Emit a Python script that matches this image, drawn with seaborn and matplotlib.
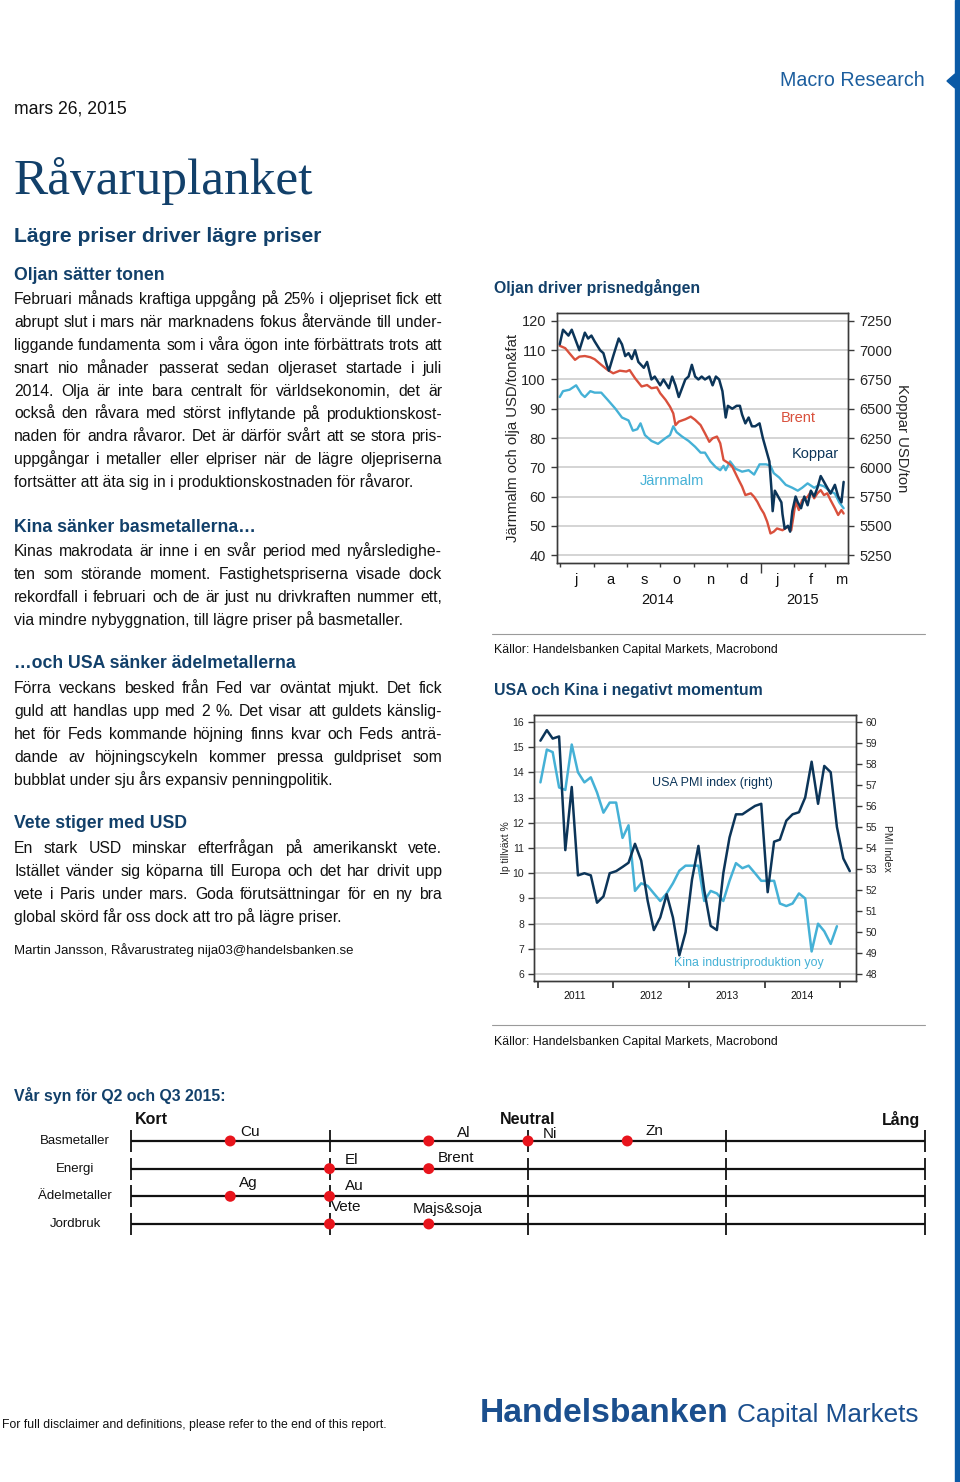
import numpy as np
import pandas as pd
import seaborn as sns
import matplotlib
matplotlib.use("Agg")
import matplotlib.pyplot as plt
import matplotlib.dates as mdates
from matplotlib.ticker import NullFormatter, FuncFormatter

# ---- chart 1: Oljan driver prisnedgången (days from 2014-07-01) ----
START = pd.Timestamp("2014-07-01")
brent_day = [0, 5, 9, 14, 18, 23, 28, 32, 38, 44, 49, 55, 61, 64, 69, 75, 80, 84, 89, 92,
             97, 101, 104, 106, 109, 115, 120, 124, 129, 133, 137, 140, 144, 147, 150, 155,
             158, 161, 164, 167, 170, 175, 178, 181, 184, 187, 190, 193, 196, 199, 204, 209,
             212, 214, 216, 219, 222, 227, 230, 233, 236, 239, 242, 245, 248, 252, 255, 258, 260]
brent = [111.5, 110.7, 108.9, 106.7, 107.8, 108.0, 107.6, 106.9, 105.0, 103.2, 102.1, 103.0,
         102.7, 103.2, 100.4, 97.6, 98.1, 97.0, 97.3, 95.3, 93.0, 90.7, 88.4, 84.4, 85.6, 86.4,
         87.3, 86.2, 84.4, 81.6, 78.7, 79.9, 80.5, 78.2, 72.5, 71.3, 70.2, 67.9, 65.6, 63.4,
         60.5, 61.1, 59.9, 58.2, 56.0, 54.2, 51.4, 47.4, 48.0, 49.1, 48.5, 49.7, 48.5, 53.1,
         58.2, 55.4, 58.8, 59.9, 61.7, 59.4, 61.1, 62.2, 60.5, 61.1, 58.8, 56.0, 53.7, 55.4, 54.2]
iron_day = [0, 3, 9, 15, 20, 23, 28, 32, 38, 44, 51, 57, 63, 67, 71, 74, 78, 84, 90, 97,
            101, 104, 107, 112, 118, 124, 129, 133, 138, 143, 147, 150, 152, 156, 161, 167,
            173, 178, 183, 189, 193, 196, 201, 207, 213, 218, 222, 227, 233, 238, 242, 247,
            252, 256, 260]
iron = [94, 96, 96.5, 98, 95, 94, 96, 95.5, 95.5, 93, 90, 87, 86, 82.5, 83, 85, 81, 79, 78, 80,
        81, 84, 82, 80.5, 79, 77, 75, 75, 72, 70, 69, 70.5, 69, 72, 69.5, 68.5, 69, 67.5, 71, 71,
        70.5, 68, 66.5, 64, 63, 62, 63, 64.5, 63, 64, 63.5, 62, 61, 58, 56]
cu_day = [0, 3, 8, 11, 14, 18, 23, 26, 29, 32, 37, 40, 43, 45, 49, 54, 57, 60, 63, 66,
          69, 72, 77, 80, 84, 87, 92, 95, 100, 103, 106, 109, 112, 115, 118, 121, 124, 127,
          130, 133, 137, 140, 143, 146, 149, 152, 154, 158, 162, 165, 167, 170, 173, 176, 179,
          183, 186, 189, 192, 194, 195, 197, 200, 203, 204, 206, 209, 211, 213, 216, 218, 221,
          224, 227, 230, 233, 236, 239, 242, 245, 248, 252, 255, 258, 260]
copper = [7050, 7175, 7125, 7175, 7100, 7000, 7150, 7100, 7125, 7075, 7000, 6975, 6875, 6825,
          6950, 7100, 7050, 6950, 6975, 6925, 7000, 6900, 6850, 6900, 6750, 6775, 6700, 6750,
          6675, 6775, 6700, 6600, 6675, 6750, 6775, 6875, 6775, 6750, 6775, 6750, 6775, 6700,
          6775, 6750, 6650, 6425, 6525, 6500, 6525, 6525, 6450, 6375, 6425, 6350, 6350, 6375,
          6250, 6150, 6050, 5800, 5625, 5800, 5750, 5700, 5600, 5475, 5500, 5450, 5625, 5750,
          5700, 5650, 5750, 5675, 5800, 5750, 5825, 5925, 5875, 5825, 5775, 5850, 5750, 5700, 5875]

# ---- chart 2: USA och Kina i negativt momentum (monthly from jan 2011) ----
pmi = [59.1, 59.6, 59.2, 59.3, 53.9, 56.9, 52.7, 52.8, 52.7, 51.4, 51.7, 52.8, 52.9, 53.1,
       53.3, 54.2, 53.4, 51.5, 50.1, 50.7, 51.8, 50.7, 48.9, 50.0, 52.5, 54.1, 52.0, 50.3,
       50.1, 52.8, 54.5, 55.6, 55.6, 55.8, 56.0, 56.1, 51.9, 54.3, 54.4, 55.3, 55.6, 55.7,
       56.4, 58.1, 56.1, 57.9, 57.6, 55.0, 53.5, 52.9]
ip = [13.6, 14.9, 14.8, 13.4, 13.3, 15.1, 14.0, 13.6, 13.8, 13.2, 12.4, 12.8, 12.8, 11.4,
      11.9, 9.3, 9.6, 9.5, 9.2, 8.9, 9.2, 9.6, 10.1, 10.3, 10.3, 10.3, 8.9, 9.3, 9.2, 8.9,
      9.7, 10.4, 10.2, 10.3, 10.0, 9.7, 9.7, 9.7, 8.8, 8.7, 8.8, 9.2, 9.0, 6.9, 8.0, 7.7,
      7.2, 7.9]

# ---- vår syn ----
view_rows = ["Basmetaller", "Energi", "Ädelmetaller", "Jordbruk"]
view_names = ["Cu", "Al", "Ni", "Zn", "El", "Brent", "Ag", "Au", "Vete", "Majs&soja"]
view_group = ["Basmetaller"] * 4 + ["Energi"] * 2 + ["Ädelmetaller"] * 2 + ["Jordbruk"] * 2
view_pos = [0.5, 1.5, 2.0, 2.5, 1.0, 1.5, 0.5, 1.0, 1.0, 1.5]
view_scale = ["Kort", "Neutral", "Lång"]

# ---- text ----
paragraphs = [
    ("Oljan sätter tonen", 275, [
        "Februari månads kraftiga uppgång på 25% i oljepriset fick ett",
        "abrupt slut i mars när marknadens fokus återvände till under-",
        "liggande fundamenta som i våra ögon inte förbättrats trots att",
        "snart nio månader passerat sedan oljeraset startade i juli",
        "2014. Olja är inte bara centralt för världsekonomin, det är",
        "också den råvara med störst inflytande på produktionskost-",
        "naden för andra råvaror. Det är därför svårt att se stora pris-",
        "uppgångar i metaller eller elpriser när de lägre oljepriserna",
        "fortsätter att äta sig in i produktionskostnaden för råvaror."]),
    ("Kina sänker basmetallerna…", 527, [
        "Kinas makrodata är inne i en svår period med nyårsledighe-",
        "ten som störande moment. Fastighetspriserna visade dock",
        "rekordfall i februari och de är just nu drivkraften nummer ett,",
        "via mindre nybyggnation, till lägre priser på basmetaller."]),
    ("…och USA sänker ädelmetallerna", 664, [
        "Förra veckans besked från Fed var oväntat mjukt. Det fick",
        "guld att handlas upp med 2 %. Det visar att guldets känslig-",
        "het för Feds kommande höjning finns kvar och Feds anträ-",
        "dande av höjningscykeln kommer pressa guldpriset som",
        "bubblat under sju års expansiv penningpolitik."]),
    ("Vete stiger med USD", 824, [
        "En stark USD minskar efterfrågan på amerikanskt vete.",
        "Istället vänder sig köparna till Europa och det har drivit upp",
        "vete i Paris under mars. Goda förutsättningar för en ny bra",
        "global skörd får oss dock att tro på lägre priser."]),
]

NAVY_T = "#12406a"
NAVY = "#0c3559"
RED = "#d9503c"
LBLUE = "#45b1d6"
BLUE = "#1c5e9e"
GRID = "#c9c9c9"
EDGE = "#3a3a3a"

sns.set_theme(style="white")
plt.rcParams["font.family"] = ["Liberation Sans", "DejaVu Sans"]

W, H = 960, 1482
fig = plt.figure(figsize=(W / 100, H / 100), dpi=100)


def px(x, y):
    return x / W, 1 - y / H


def put(x, y, s, **kw):
    kw.setdefault("va", "center")
    return fig.text(*px(x, y), s, **kw)


renderer = fig.canvas.get_renderer()


def justify(line, y, x0=14, x1=442, last=False, size=11.3):
    # words share one baseline so accents and descenders do not shift them
    yb = y + 5
    if last:
        put(x0, yb, line, fontsize=size, color="#111111", va="baseline")
        return
    words = line.split()
    ts = [put(0, yb, w, fontsize=size, color="#111111", va="baseline") for w in words]
    ws = [t.get_window_extent(renderer=renderer).width for t in ts]
    gap = (x1 - x0 - sum(ws)) / max(len(words) - 1, 1)
    x = x0
    for t, w in zip(ts, ws):
        t.set_x(x / W)
        x += w + gap


# ---- page header ----
fig.patches.append(plt.Rectangle(px(955, H), 5 / W, 1, transform=fig.transFigure,
                                 color="#0b5aa6", zorder=5))
fig.patches.append(plt.Polygon([px(947, 81), px(955, 74), px(955, 88)], closed=True,
                               transform=fig.transFigure, color="#0b5aa6"))
put(925, 81, "Macro Research", fontsize=14.1, color=BLUE, ha="right")
put(14, 109, "mars 26, 2015", fontsize=12.7, color="#111111")
put(14, 181, "Råvaruplanket", fontsize=37, color=NAVY_T, family="Liberation Serif")
put(14, 236, "Lägre priser driver lägre priser", fontsize=15.2, color=NAVY_T, weight="bold")

# ---- body text ----
for head, y, lines in paragraphs:
    put(14, y, head, fontsize=12.7, color=NAVY_T, weight="bold")
    for i, line in enumerate(lines):
        justify(line, y + 24 + i * 22.9, last=(i == len(lines) - 1))
put(14, 950, "Martin Jansson, Råvarustrateg nija03@handelsbanken.se", fontsize=9.5, color="#111111")

# ---- chart 1 ----
put(494, 287, "Oljan driver prisnedgången", fontsize=11.4, color=NAVY_T, weight="bold")
ax1 = fig.add_axes([557 / W, 1 - 563 / H, 291 / W, 250 / H])
d_brent = pd.DataFrame({"date": START + pd.to_timedelta(brent_day, unit="D"), "v": brent})
d_iron = pd.DataFrame({"date": START + pd.to_timedelta(iron_day, unit="D"), "v": iron})
d_cu = pd.DataFrame({"date": START + pd.to_timedelta(cu_day, unit="D"), "v": copper})
sns.lineplot(data=d_iron, x="date", y="v", ax=ax1, color=LBLUE, lw=1.7)
sns.lineplot(data=d_brent, x="date", y="v", ax=ax1, color=RED, lw=1.7)
ax1b = ax1.twinx()
sns.lineplot(data=d_cu, x="date", y="v", ax=ax1b, color=NAVY, lw=1.8)
ax1.set_ylim(37.3, 122.7)
ax1b.set_ylim(5182, 7318)
ax1.set_yticks(range(40, 121, 10))
ax1b.set_yticks(range(5250, 7251, 250))
ax1.set_xlim(pd.Timestamp("2014-06-28 12:00"), pd.Timestamp("2015-03-22"))
ax1.grid(axis="y", color=GRID, lw=1.1)
ax1.set_axisbelow(True)
for a in (ax1, ax1b):
    for sp in a.spines.values():
        sp.set_color(EDGE)
        sp.set_linewidth(1)
    a.set_xlabel("")
ax1.xaxis.set_major_locator(mdates.MonthLocator())
ax1.xaxis.set_major_formatter(NullFormatter())
ax1.xaxis.set_minor_locator(mdates.MonthLocator(bymonthday=16))
ax1.xaxis.set_minor_formatter(FuncFormatter(lambda v, p: "jfmamjjasond"[mdates.num2date(v).month - 1]))
ax1.tick_params(axis="x", which="major", length=3, width=1, color=EDGE, bottom=True)
ax1.tick_params(axis="x", which="minor", length=0, labelsize=10.5, pad=7, colors="#111111")
locs = ax1.get_xticks()
for loc, tk in zip(locs, ax1.xaxis.get_major_ticks(len(locs))):
    if mdates.num2date(loc).month == 1:
        tk.tick1line.set_markersize(7)
ax1.tick_params(axis="y", length=4, width=1, color=EDGE, labelsize=10.5, left=True, pad=4)
ax1b.tick_params(axis="y", length=4, width=1, color=EDGE, labelsize=10.5, right=True, pad=4)
ax1.set_ylabel("Järnmalm och olja USD/ton&fat", fontsize=10.7, labelpad=1)
ax1b.set_ylabel("Koppar USD/ton", fontsize=10.7, rotation=270, va="bottom", labelpad=2)
put(658, 600, "2014", fontsize=10.5, ha="center", color="#111111")
put(803, 600, "2015", fontsize=10.5, ha="center", color="#111111")
put(798, 418, "Brent", fontsize=10.5, ha="center", color=RED)
put(815, 454, "Koppar", fontsize=10.5, ha="center", color=NAVY)
put(672, 481, "Järnmalm", fontsize=10.5, ha="center", color=LBLUE)
fig.add_artist(plt.Line2D([492 / W, 925 / W], [1 - 634 / H] * 2, color="#9a9a9a", lw=0.8))
put(494, 650, "Källor: Handelsbanken Capital Markets, Macrobond", fontsize=8.9, color="#111111")

# ---- chart 2 ----
put(494, 691, "USA och Kina i negativt momentum", fontsize=11.4, color=NAVY_T, weight="bold")
ax2 = fig.add_axes([534 / W, 1 - 981 / H, 322 / W, 266 / H])
months = pd.date_range("2011-01-01", periods=len(pmi), freq="MS") + pd.Timedelta(days=14)
d_ip = pd.DataFrame({"date": months[:len(ip)], "v": ip})
d_pmi = pd.DataFrame({"date": months, "v": pmi})
sns.lineplot(data=d_ip, x="date", y="v", ax=ax2, color=LBLUE, lw=1.8)
ax2b = ax2.twinx()
sns.lineplot(data=d_pmi, x="date", y="v", ax=ax2b, color=NAVY, lw=1.8)
ax2.set_ylim(5.73, 16.27)
ax2b.set_ylim(47.68, 60.32)
ax2.set_yticks(range(6, 17))
ax2b.set_yticks(range(48, 61))
ax2.set_xlim(pd.Timestamp("2010-12-15"), pd.Timestamp("2015-03-17"))
ax2.grid(axis="y", color=GRID, lw=1.1)
ax2.set_axisbelow(True)
for a in (ax2, ax2b):
    for sp in a.spines.values():
        sp.set_color(EDGE)
        sp.set_linewidth(1)
    a.set_xlabel("")
ax2.xaxis.set_major_locator(mdates.YearLocator())
ax2.xaxis.set_major_formatter(NullFormatter())
ax2.xaxis.set_minor_locator(mdates.MonthLocator(bymonth=7))
ax2.xaxis.set_minor_formatter(mdates.DateFormatter("%Y"))
ax2.tick_params(axis="x", which="major", length=5, width=1.3, color=EDGE, bottom=True)
ax2.tick_params(axis="x", which="minor", length=0, labelsize=7.5, pad=7, colors="#111111")
ax2.tick_params(axis="y", length=4, width=1, color=EDGE, labelsize=7.5, left=True, pad=3)
ax2b.tick_params(axis="y", length=4, width=1, color=EDGE, labelsize=7.5, right=True, pad=3)
ax2.set_ylabel("Ip tillväxt %", fontsize=7.5, labelpad=1)
ax2b.set_ylabel("PMI Index", fontsize=7.5, rotation=270, va="bottom", labelpad=3)
put(712, 783, "USA PMI index (right)", fontsize=9, ha="center", color=NAVY)
put(749, 963, "Kina industriproduktion yoy", fontsize=8.9, ha="center", color=LBLUE)
fig.add_artist(plt.Line2D([492 / W, 925 / W], [1 - 1025 / H] * 2, color="#9a9a9a", lw=0.8))
put(494, 1042, "Källor: Handelsbanken Capital Markets, Macrobond", fontsize=8.9, color="#111111")

# ---- vår syn ----
put(14, 1096, "Vår syn för Q2 och Q3 2015:", fontsize=11.4, color=NAVY_T, weight="bold")
ax3 = fig.add_axes([121 / W, 1 - 1245 / H, 814 / W, 140 / H])
ax3.axis("off")
row_idx = {r: i for i, r in enumerate(view_rows)}
ax3.hlines(range(len(view_rows)), 0, 4, color="#111111", lw=1.6, zorder=1)
for i in range(len(view_rows)):
    ax3.vlines(range(5), i - 0.4, i + 0.4, color="#111111", lw=1.3, zorder=1)
d_view = pd.DataFrame({"name": view_names, "row": [row_idx[g] for g in view_group], "pos": view_pos})
sns.scatterplot(data=d_view, x="pos", y="row", ax=ax3, color="#e8141c", s=62,
                edgecolor="none", zorder=3, legend=False)
ax3.set_xlim(-0.0504, 4.0504)
ax3.set_ylim(3.76, -1.30)
label_offset = {"Cu": (10, 9), "Al": (28, 8), "Ni": (15, 7), "Zn": (18, 10), "El": (15, 9),
                "Brent": (9, 11), "Ag": (9, 13), "Au": (15, 10), "Vete": (1, 17), "Majs&soja": (-16, 15)}
for _, r in d_view.iterrows():
    ax3.annotate(r["name"], (r["pos"], r["row"]), xytext=label_offset[r["name"]],
                 textcoords="offset pixels", fontsize=11, va="center", ha="left", color="#111111")
for i, name in enumerate(view_rows):
    put(75, 1141 + i * 27.7, name, fontsize=9.5, ha="center", color="#111111")
put(135, 1119, view_scale[0], fontsize=11.5, weight="bold", color="#111111")
put(528, 1119, view_scale[1], fontsize=11.5, weight="bold", ha="center", color="#111111")
put(920, 1119, view_scale[2], fontsize=11.5, weight="bold", ha="right", color="#111111")

# ---- footer ----
put(2, 1425, "For full disclaimer and definitions, please refer to the end of this report.",
    fontsize=8.8, color="#111111")
put(480, 1413, "Handelsbanken", fontsize=24.2, weight="bold", color="#1b4f8e")
put(737, 1415, "Capital Markets", fontsize=18.8, color="#1b4f8e")

fig.savefig("out.png", dpi=100)
